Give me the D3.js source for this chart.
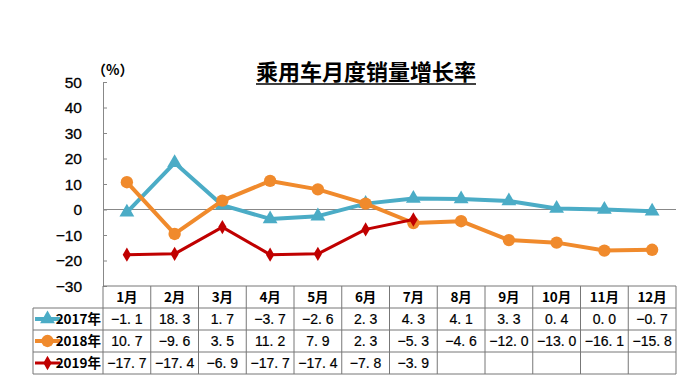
<!DOCTYPE html>
<html>
<head>
<meta charset="utf-8">
<script src="https://d3js.org/d3.v7.min.js"></script>
<style>
    body { margin: 0; background: #fff; }
    text { font-family: "Liberation Sans", Arial, "Noto Sans CJK SC", sans-serif; }
</style>
</head>
<body>
<script>
    var months = ["1月", "2月", "3月", "4月", "5月", "6月", "7月", "8月", "9月", "10月", "11月", "12月"];
    var seriesNames = ["2017年", "2018年", "2019年"];
    var v2017 = [-1.1, 18.3, 1.7, -3.7, -2.6, 2.3, 4.3, 4.1, 3.3, 0.4, 0.0, -0.7];
    var v2018 = [10.7, -9.6, 3.5, 11.2, 7.9, 2.3, -5.3, -4.6, -12.0, -13.0, -16.1, -15.8];
    var v2019 = [-17.7, -17.4, -6.9, -17.7, -17.4, -7.8, -3.9];
    var yTicks = [50, 40, 30, 20, 10, 0, -10, -20, -30];

    var w = 700, h = 383;
    var plotLeft = 103, plotRight = 676, plotTop = 82, plotBottom = 286;
    var rowH = 22;

    var colors = ["#4bacc6", "#f08a2c", "#c00000"];
    var symbols = [d3.symbolTriangle, d3.symbolCircle, d3.symbolDiamond];
    var symSizes = [95, 120, 60];
    var widths = [4, 4, 3];

    var series = [v2017, v2018, v2019].map(function (vals, i) {
        return { name: seriesNames[i], values: vals, color: colors[i], i: i };
    });

    var svg = d3.select("body").append("svg").attr("width", w).attr("height", h);

    var x = d3.scaleBand().domain(months).range([plotLeft, plotRight]);
    var y = d3.scaleLinear().domain([-30, 50]).range([plotBottom, plotTop]);

    // title
    var title = svg.append("text")
        .attr("x", 366).attr("y", 80)
        .attr("text-anchor", "middle")
        .style("font-size", "22px").style("font-weight", "bold")
        .style("font-family", "'Noto Sans CJK SC', sans-serif")
        .text("乘用车月度销量增长率");
    var tb = title.node().getBBox();
    svg.append("line")
        .attr("x1", tb.x).attr("x2", tb.x + tb.width)
        .attr("y1", 84).attr("y2", 84)
        .attr("stroke", "#000").attr("stroke-width", 1.5);

    svg.append("text")
        .attr("x", 92).attr("y", 75)
        .style("font-size", "14px").style("font-weight", "bold")
        .style("font-family", "'Noto Sans CJK SC', sans-serif")
        .text("（%）");

    // y axis
    var yAxis = svg.append("g")
        .attr("transform", "translate(" + plotLeft + ",0)")
        .call(d3.axisRight(y).tickValues(yTicks).tickSize(4).tickFormat(""));
    yAxis.select(".domain").attr("stroke", "#888");
    yAxis.selectAll(".tick line").attr("stroke", "#888");

    svg.selectAll(".ylab")
        .data(yTicks)
        .enter().append("text")
        .attr("class", "ylab")
        .attr("x", 82).attr("y", function (d) { return y(d) + 5.5; })
        .attr("text-anchor", "end")
        .style("font-size", "15.5px")
        .style("stroke", "#000").style("stroke-width", 0.3)
        .text(function (d) { return d < 0 ? "−" + Math.abs(d) : d; });

    // zero line
    svg.append("line")
        .attr("x1", plotLeft).attr("x2", plotRight)
        .attr("y1", y(0)).attr("y2", y(0))
        .attr("stroke", "#888").attr("stroke-width", 1);

    // lines
    var line = d3.line()
        .x(function (d, i) { return x(months[i]) + x.bandwidth() / 2; })
        .y(function (d) { return y(d); });

    series.forEach(function (s) {
        svg.append("path")
            .attr("d", line(s.values))
            .attr("fill", "none")
            .attr("stroke", s.color)
            .attr("stroke-width", widths[s.i])
            .attr("stroke-linejoin", "round");

        svg.selectAll(".pt" + s.i)
            .data(s.values)
            .enter().append("path")
            .attr("class", "pt" + s.i)
            .attr("transform", function (d, i) {
                return "translate(" + (x(months[i]) + x.bandwidth() / 2) + "," + y(d) + ")";
            })
            .attr("d", d3.symbol().type(symbols[s.i]).size(symSizes[s.i]))
            .attr("fill", s.color);
    });

    // table
    var grid = "#777";
    var tableTop = plotBottom;
    var legendLeft = 33;
    var tg = svg.append("g");

    tg.append("line").attr("x1", plotLeft).attr("x2", plotRight)
        .attr("y1", tableTop).attr("y2", tableTop).attr("stroke", grid);
    [1, 2, 3, 4].forEach(function (r) {
        tg.append("line").attr("x1", legendLeft).attr("x2", plotRight)
            .attr("y1", tableTop + r * rowH).attr("y2", tableTop + r * rowH)
            .attr("stroke", grid);
    });
    tg.append("line").attr("x1", legendLeft).attr("x2", legendLeft)
        .attr("y1", tableTop + rowH).attr("y2", tableTop + 4 * rowH).attr("stroke", grid);
    months.forEach(function (m) {
        tg.append("line").attr("x1", x(m)).attr("x2", x(m))
            .attr("y1", tableTop).attr("y2", tableTop + 4 * rowH).attr("stroke", grid);
    });
    tg.append("line").attr("x1", plotRight).attr("x2", plotRight)
        .attr("y1", tableTop).attr("y2", tableTop + 4 * rowH).attr("stroke", grid);

    tg.selectAll(".mh")
        .data(months)
        .enter().append("text")
        .attr("x", function (d) { return x(d) + x.bandwidth() / 2; })
        .attr("y", tableTop + 16)
        .attr("text-anchor", "middle")
        .style("font-size", "13.5px").style("font-weight", "bold")
        .style("font-family", "'Noto Sans CJK SC', sans-serif")
        .text(function (d) { return d; });

    function fmt(v) {
        var s = Math.abs(v).toFixed(1).replace(".", ". ");
        return (v < 0 ? "−" : "") + s;
    }

    series.forEach(function (s, r) {
        var cy = tableTop + (r + 1) * rowH + rowH / 2;
        tg.append("line").attr("x1", 35).attr("x2", 60)
            .attr("y1", cy).attr("y2", cy)
            .attr("stroke", s.color).attr("stroke-width", widths[r]);
        tg.append("path")
            .attr("transform", "translate(47.5," + cy + ")")
            .attr("d", d3.symbol().type(symbols[r]).size(symSizes[r]))
            .attr("fill", s.color);
        tg.append("text")
            .attr("x", 101).attr("y", cy + 5)
            .attr("text-anchor", "end")
            .style("font-size", "13.5px").style("font-weight", "bold")
            .style("font-family", "'Noto Sans CJK SC', sans-serif")
            .text(s.name);

        tg.selectAll(".cell" + r)
            .data(s.values)
            .enter().append("text")
            .attr("x", function (d, i) { return x(months[i]) + x.bandwidth() / 2; })
            .attr("y", cy + 5)
            .attr("text-anchor", "middle")
            .style("font-size", "14px")
            .style("stroke", "#000").style("stroke-width", 0.2)
            .text(fmt);
    });
</script>
</body>
</html>
